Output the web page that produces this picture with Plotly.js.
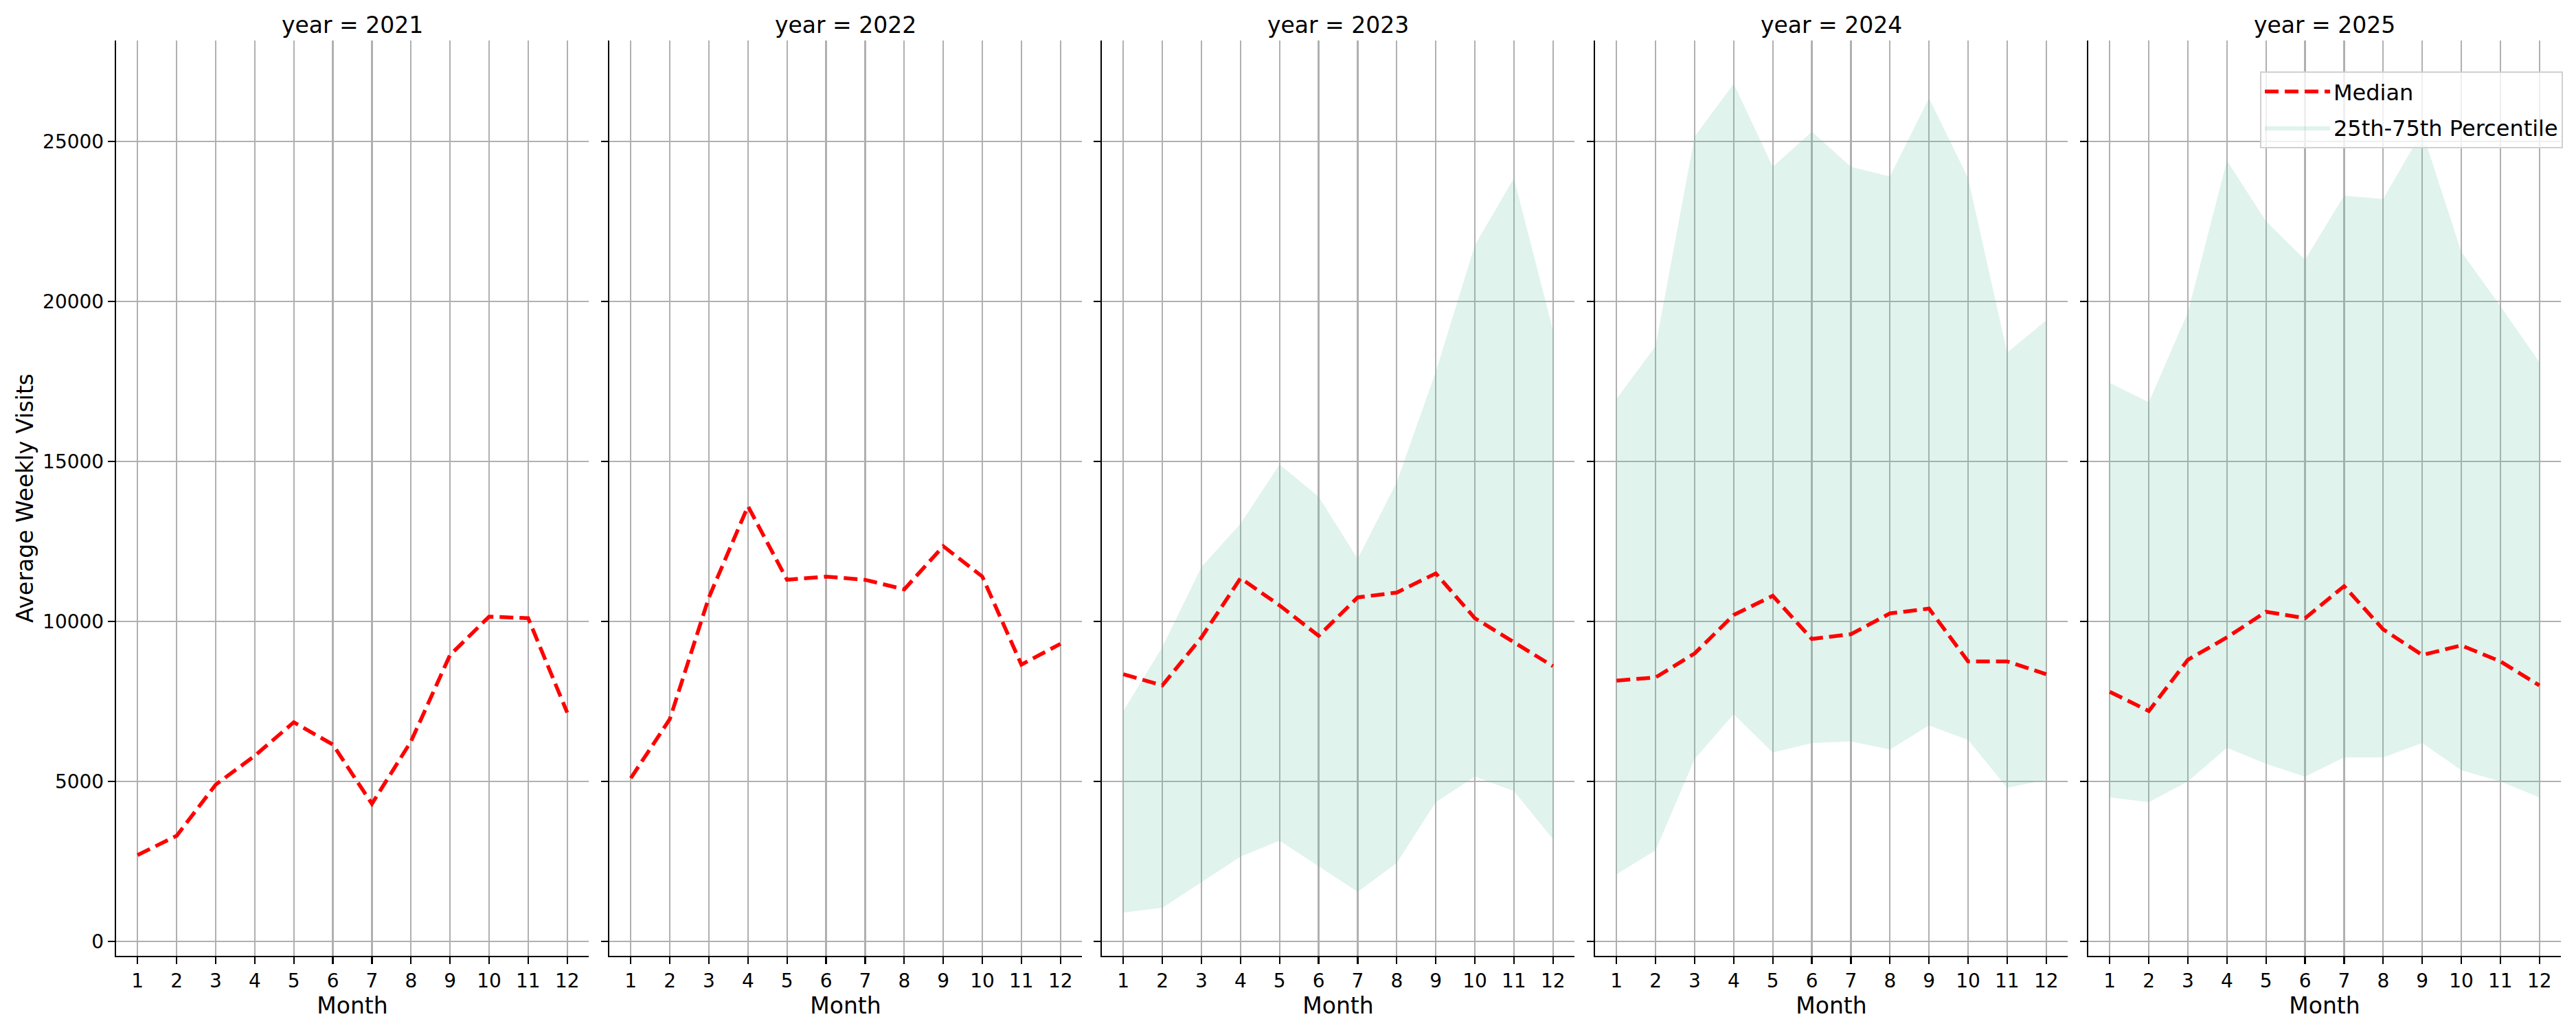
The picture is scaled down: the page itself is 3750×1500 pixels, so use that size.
<!DOCTYPE html>
<html>
<head>
<meta charset="utf-8">
<script src="https://cdn.plot.ly/plotly-3.0.1.min.js"></script>
<style>
  html, body { margin: 0; padding: 0; background: #fff; }
  #chart { width: 3750px; height: 1500px; }
</style>
</head>
<body>
<div id="chart"></div>
<script>
// monthly median and quartile band, one panel per year
const months = [1, 2, 3, 4, 5, 6, 7, 8, 9, 10, 11, 12];
const years = [2021, 2022, 2023, 2024, 2025];
const yTicks = [0, 5000, 10000, 15000, 20000, 25000];

const median2021 = [2700, 3300, 4900, 5800, 6850, 6150, 4300, 6250, 8950, 10150, 10100, 7150];
const median2022 = [5100, 6950, 10750, 13600, 11300, 11400, 11300, 11000, 12350, 11400, 8650, 9300];
const median2023 = [8350, 8000, 9500, 11350, 10500, 9550, 10750, 10900, 11500, 10100, 9350, 8600];
const median2024 = [8150, 8250, 9000, 10200, 10800, 9450, 9600, 10250, 10400, 8750, 8750, 8350];
const median2025 = [7800, 7200, 8800, 9500, 10300, 10100, 11100, 9750, 8950, 9250, 8750, 8000];

const p25_2023 = [900, 1050, 1850, 2650, 3150, 2350, 1550, 2450, 4350, 5150, 4700, 3200];
const p75_2023 = [7200, 9200, 11700, 13050, 14900, 13900, 11950, 14350, 17800, 21750, 23850, 19100];
const p25_2024 = [2100, 2850, 5700, 7100, 5900, 6200, 6250, 6000, 6750, 6300, 4800, 5050];
const p75_2024 = [16950, 18600, 25150, 26800, 24200, 25300, 24200, 23900, 26350, 23850, 18400, 19400];
const p25_2025 = [4500, 4350, 5000, 6050, 5550, 5150, 5750, 5750, 6200, 5350, 5000, 4500];
const p75_2025 = [17450, 16850, 19650, 24400, 22500, 21300, 23300, 23200, 25300, 21550, 19850, 18100];

const medians = [median2021, median2022, median2023, median2024, median2025];
const lows = [null, null, p25_2023, p25_2024, p25_2025];
const highs = [null, null, p75_2023, p75_2024, p75_2025];

const W = 3750, H = 1500;
const panelLeft = [169, 887, 1604, 2322, 3040];
const panelWidth = 688;
const plotTop = 59, plotBottom = 1392;

const FONT = 'DejaVu Sans, sans-serif';
const GRID = '#b0b0b0';
const BAND = 'rgba(102,194,165,0.2)';

const traces = [];
const layout = {
  width: W,
  height: H,
  margin: {l: 0, r: 0, t: 0, b: 0},
  paper_bgcolor: '#fff',
  plot_bgcolor: '#fff',
  font: {family: FONT, color: '#000', size: 28},
  showlegend: true,
  legend: {
    x: 3731 / W, xanchor: 'right',
    y: 1 - 104 / H, yanchor: 'top',
    bgcolor: 'rgba(255,255,255,0.8)',
    bordercolor: '#d0d0d0',
    borderwidth: 2,
    font: {size: 32, family: FONT},
    itemwidth: 95,
    tracegroupgap: 8,
  },
  annotations: [],
};

let bandInLegend = false;

years.forEach((year, i) => {
  const n = i === 0 ? '' : String(i + 1);
  const xa = 'x' + n, ya = 'y' + n;

  if (lows[i]) {
    traces.push({
      x: months, y: lows[i], xaxis: xa, yaxis: ya,
      mode: 'lines', line: {width: 0, color: BAND},
      showlegend: false, hoverinfo: 'skip',
    });
    traces.push({
      x: months, y: highs[i], xaxis: xa, yaxis: ya,
      mode: 'lines', line: {width: 0, color: BAND},
      fill: 'tonexty', fillcolor: BAND,
      name: '25th-75th Percentile',
      legendgroup: 'band', legendrank: 2,
      showlegend: !bandInLegend,
    });
    bandInLegend = true;
  }

  traces.push({
    x: months, y: medians[i], xaxis: xa, yaxis: ya,
    mode: 'lines',
    line: {color: '#ff0000', width: 5.5, dash: '20px,9px'},
    name: 'Median',
    legendgroup: 'median', legendrank: 1,
    showlegend: i === 0,
  });

  const x0 = panelLeft[i] / W, x1 = (panelLeft[i] + panelWidth) / W;

  layout['xaxis' + n] = {
    domain: [x0, x1],
    anchor: ya,
    range: [0.45, 12.55],
    tickvals: months,
    ticktext: months.map(String),
    showgrid: true, gridcolor: GRID, gridwidth: 2.2,
    zeroline: false,
    showline: true, linecolor: '#000', linewidth: 2.2,
    ticks: 'outside', ticklen: 10, tickwidth: 2.2, tickcolor: '#000',
    tickfont: {size: 28, family: FONT},
    title: {text: 'Month', font: {size: 33, family: FONT}, standoff: 3},
    automargin: false,
  };

  layout['yaxis' + n] = {
    domain: [1 - plotBottom / H, 1 - plotTop / H],
    anchor: xa,
    range: [-450, 28150],
    tickvals: yTicks,
    ticktext: yTicks.map(String),
    showticklabels: i === 0,
    showgrid: true, gridcolor: GRID, gridwidth: 2.2,
    zeroline: false,
    showline: true, linecolor: '#000', linewidth: 2.2,
    ticks: 'outside', ticklen: 10, tickwidth: 2.2, tickcolor: '#000',
    tickfont: {size: 28, family: FONT},
    automargin: false,
  };
  if (i === 0) {
    layout.yaxis.title = {text: 'Average Weekly Visits', font: {size: 33, family: FONT}, standoff: 4};
  }

  layout.annotations.push({
    text: 'year = ' + year,
    xref: 'paper', yref: 'paper',
    x: (x0 + x1) / 2, y: 1 - 36 / H,
    xanchor: 'center', yanchor: 'middle',
    showarrow: false,
    font: {size: 33, family: FONT, color: '#000'},
  });
});

Plotly.newPlot('chart', traces, layout, {staticPlot: true});
</script>
</body>
</html>
